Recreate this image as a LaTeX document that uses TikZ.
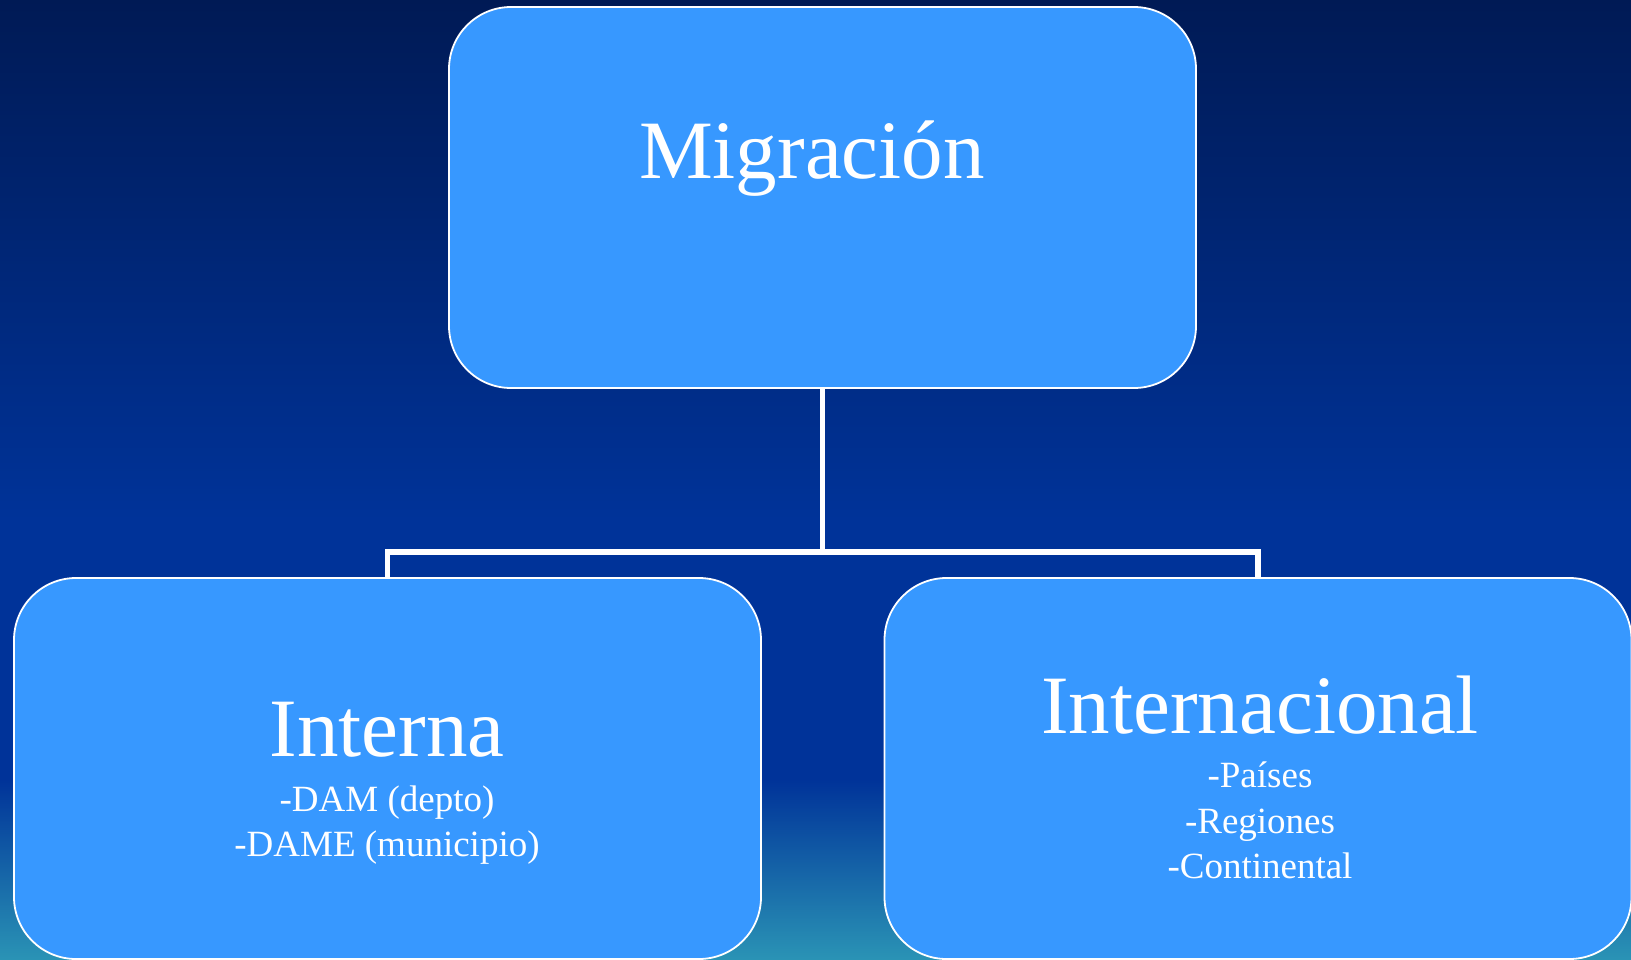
\documentclass[tikz,border=0pt]{standalone}
\usepackage{fontspec}
\setmainfont{Liberation Serif}
\begin{document}
\begin{tikzpicture}[x=1pt,y=-1pt,
  box/.style={draw=white,line width=1.8pt,fill=boxblue,rounded corners=62pt,minimum width=747pt,minimum height=381pt,inner sep=0pt},
  big/.style={text=white,anchor=base,inner sep=0pt,font=\fontsize{83}{90}\selectfont},
  small/.style={text=white,anchor=base,inner sep=0pt,font=\fontsize{37}{45}\selectfont},
  conn/.style={draw=white,line width=5.5pt}]
\definecolor{boxblue}{HTML}{3798FF}
\definecolor{bgtop}{HTML}{001A55}
\definecolor{bgmid}{HTML}{003399}
\definecolor{bgbot}{HTML}{2A93B5}
\useasboundingbox (0,0) rectangle (1631,959);
\clip (0,0) rectangle (1631,959);
\shade[top color=bgtop,bottom color=bgmid] (0,0) rectangle (1631,520);
\fill[bgmid] (0,519) rectangle (1631,781);
\shade[top color=bgmid,bottom color=bgbot] (0,780) rectangle (1631,959);
\node[box] (mig) at (822.5,197.5) {};
\node[box] (int) at (387.5,768.5) {};
\node[box] (inl) at (1258,768.5) {};
\coordinate (jy) at (0,552);
\coordinate (j) at (mig.south |- jy);
\draw[conn] (mig.south) -- (j);
\draw[conn] (j) -| (int.north);
\draw[conn] (j) -| (inl.north);
\node[big] (tmig) at (812,178) {Migración};
\node[big] (tint) at (387,756) {Interna};
\node[small] (t1) at (387,811) {-DAM (depto)};
\node[small] (t2) at (387,856) {-DAME (municipio)};
\node[big] (tinl) at (1260,733) {Internacional};
\node[small] (t3) at (1260,787) {-Países};
\node[small] (t4) at (1260,833) {-Regiones};
\node[small] (t5) at (1260,878) {-Continental};
\end{tikzpicture}
\end{document}
